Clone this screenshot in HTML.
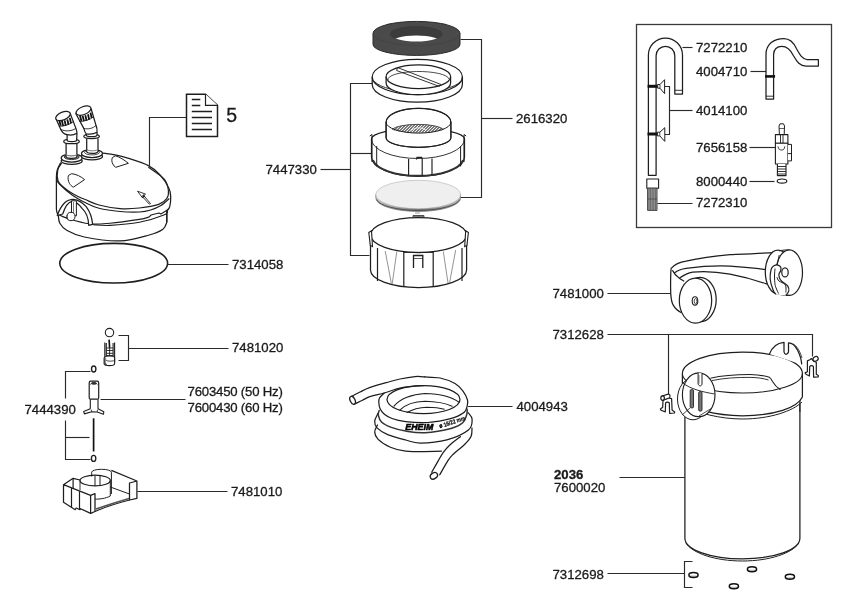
<!DOCTYPE html>
<html><head><meta charset="utf-8">
<style>
html,body{margin:0;padding:0;background:#fff;width:846px;height:613px;overflow:hidden}
svg{display:block;font-family:"Liberation Sans",sans-serif;filter:grayscale(100%)}
</style></head><body>
<svg width="846" height="613" viewBox="0 0 846 613">
<g id="labels" font-size="13.2" fill="#1a1a1a" stroke="#1a1a1a" stroke-width="0.3">
<text x="232" y="269">7314058</text>
<text x="265.5" y="173.8">7447330</text>
<text x="516" y="123.2">2616320</text>
<text x="696" y="51.7">7272210</text>
<text x="696" y="75.9">4004710</text>
<text x="696" y="114.7">4014100</text>
<text x="696" y="151.9">7656158</text>
<text x="696" y="185.6">8000440</text>
<text x="696" y="206.7">7272310</text>
<text x="232" y="352.2">7481020</text>
<text x="24.5" y="414.4">7444390</text>
<text x="187.6" y="395.5" textLength="95.2" lengthAdjust="spacing">7603450 (50 Hz)</text>
<text x="187.6" y="411.8" textLength="95.2" lengthAdjust="spacing">7600430 (60 Hz)</text>
<text x="231" y="495.8">7481010</text>
<text x="516.5" y="410.8">4004943</text>
<text x="552.5" y="298.4">7481000</text>
<text x="552.5" y="338.9">7312628</text>
<text x="554" y="478.8" font-weight="bold">2036</text>
<text x="554" y="491.8">7600020</text>
<text x="552.5" y="578.8">7312698</text>
<text x="226.2" y="122.2" font-size="19.5">5</text>
</g>
<g id="leaders" stroke="#2a2a2a" stroke-width="1.15" fill="none">
<!-- head -->
<polyline points="186.5,117.5 149.5,117.5 149.5,166"/>
<line x1="167.5" y1="264.5" x2="228.5" y2="264.5"/>
<!-- middle stack -->
<polyline points="372.5,83.5 350.5,83.5 350.5,255.5 369.5,255.5"/>
<line x1="350.5" y1="153.5" x2="372.5" y2="153.5"/>
<line x1="320.5" y1="169.5" x2="350.5" y2="169.5"/>
<polyline points="460.5,39.5 481.5,39.5 481.5,197.5 460.5,197.5"/>
<line x1="481.5" y1="118.5" x2="512.5" y2="118.5"/>
<!-- box -->
<rect x="636.5" y="24.5" width="195" height="203" stroke="#3a3a3a" stroke-width="1.3"/>
<line x1="682.5" y1="47.5" x2="692.5" y2="47.5"/>
<line x1="750.5" y1="71.5" x2="766.5" y2="71.5"/>
<polyline points="664.5,86.5 669.5,86.5 669.5,134.5 664.5,134.5"/>
<line x1="669.5" y1="110.5" x2="692.5" y2="110.5"/>
<line x1="749.5" y1="147.5" x2="775.5" y2="147.5"/>
<line x1="749.5" y1="181.5" x2="774.5" y2="181.5"/>
<line x1="657.5" y1="203.5" x2="692.5" y2="203.5"/>
<!-- bottom left -->
<polyline points="118.5,335.5 128.5,335.5 128.5,360.5 118.5,360.5"/>
<line x1="128.5" y1="348.5" x2="228.5" y2="348.5"/>
<polyline points="65.5,398.5 65.5,371.5 90.5,371.5"/>
<polyline points="65.5,420.5 65.5,459.5 90.5,459.5"/>
<line x1="65.5" y1="437.5" x2="89.5" y2="437.5"/>
<line x1="100.5" y1="399.5" x2="185.5" y2="399.5"/>
<line x1="137.5" y1="491.5" x2="227.5" y2="491.5"/>
<!-- hose -->
<line x1="467.5" y1="406.5" x2="512.5" y2="406.5"/>
<!-- right -->
<line x1="607.5" y1="293.5" x2="670.5" y2="293.5"/>
<polyline points="607.5,334.5 812.5,334.5 812.5,356.5"/>
<line x1="668.5" y1="334.5" x2="668.5" y2="394.5"/>
<line x1="619.5" y1="477.5" x2="685.5" y2="477.5"/>
<line x1="607.5" y1="573.5" x2="684.5" y2="573.5"/>
<polyline points="692.5,561.5 684.5,561.5 684.5,587.5 692.5,587.5"/>
</g>

<g id="middle" stroke="#1e1e1e" stroke-width="1.25" fill="none">
<defs>
<clipPath id="foamHoleTop"><ellipse cx="416.3" cy="34" rx="26" ry="7.5"/></clipPath>
<clipPath id="meshClip"><path d="M392.3,129.5 A26,6.3 0 0 1 443.4,129.5 A26,4 0 0 1 392.3,129.5 Z"/></clipPath><clipPath id="basketTop"><ellipse cx="418.3" cy="121.5" rx="32.3" ry="13.1"/></clipPath>
<pattern id="hatch" width="2" height="2" patternUnits="userSpaceOnUse" patternTransform="rotate(40)"><rect width="2" height="2" fill="#d0d0d0"/><rect width="0.9" height="2" fill="#4a4a4a"/></pattern>
<linearGradient id="footG" x1="0" y1="0" x2="0" y2="1"><stop offset="0.45" stop-color="#fff"/><stop offset="1" stop-color="#777"/></linearGradient>
<linearGradient id="padEdge" x1="0" y1="0" x2="1" y2="0">
<stop offset="0" stop-color="#c8c8c8"/><stop offset="0.5" stop-color="#777"/><stop offset="1" stop-color="#bbb"/></linearGradient>
</defs>
<!-- foam -->
<path d="M373,33.4 A43.5,12 0 0 1 460,33.4 L460,44.4 A43.5,11 0 0 1 373,44.4 Z" fill="#4a4a4a" stroke="#2a2a2a" stroke-width="1"/>
<ellipse cx="416.3" cy="34" rx="26" ry="7.5" fill="#3c3c3c" stroke="#383838" stroke-width="0.6"/>
<ellipse cx="416.3" cy="43" rx="26" ry="7.5" fill="#fff" stroke="none" clip-path="url(#foamHoleTop)"/>
<path d="M373,33.4 A43.5,12 0 0 0 460,33.4" stroke="#404040" stroke-width="0.6"/>
<!-- ring -->
<ellipse cx="417.3" cy="77" rx="45.1" ry="17.7"/>
<path d="M372.2,77 L372.2,84.5 A45.1,17.7 0 0 0 462.4,84.5 L462.4,77"/>
<path d="M374.5,81.5 A45,15 0 0 0 460.5,81.5" stroke-width="0.9"/>
<path d="M386.1,76.7 A32.25,11.8 0 0 1 450.6,76.7 L450.6,82.9 A32.25,11.8 0 0 1 386.1,82.9 Z" fill="#fff"/>
<path d="M386.1,76.7 A32.25,11.8 0 0 0 450.6,76.7"/>
<path d="M388,80 A30.5,8 0 0 1 449,79" stroke-width="0.8"/>
<path d="M397.5,67.5 L441,84.5 M396.6,70.5 L439.5,86.5 M396.6,70.5 L397.5,67.5" stroke-width="0.9"/>
<!-- basket -->
<path d="M371.5,139 A46.5,10.5 0 0 1 464.5,139 L464.5,157 A46.5,19.4 0 0 1 371.5,157 Z" fill="#fff"/>
<path d="M371.5,139 A46.5,19.5 0 0 0 464.5,139" stroke-width="0.9"/>
<path d="M373,160 A45.5,18.5 0 0 0 463,160" stroke="#333" stroke-width="1.8"/>
<path d="M369.8,136 L372,134.5 L372,162 M466.2,136 L464,134.5 L464,162 M376.7,146 L376.7,166.5 M460.6,146 L460.6,166.5" stroke-width="1"/>
<path d="M408.6,159 L408.6,175.5 M422.2,158.8 L422.2,176 M432,158.6 L432,175.3 M416.4,159.5 L417,157.3 L421.6,157.3 L422.2,158.8" stroke-width="1.15"/>
<path d="M386.1,122.2 A32.4,13.9 0 0 1 450.9,122.2 L450.9,137.8 A32.4,9.5 0 0 1 386.1,137.8 Z" fill="#fff"/>
<path d="M386.1,122.2 L386.1,137.8 A32.4,9.5 0 0 0 450.9,137.8 L450.9,122.2" stroke-width="1"/>
<path d="M392.3,129.5 A26,6.3 0 0 1 443.4,129.5 A26,4 0 0 1 392.3,129.5 Z" fill="#7a7a7a" stroke="none"/><g clip-path="url(#meshClip)"><path d="M384,136 L398,122 M387,136 L401,122 M390,136 L404,122 M393,136 L407,122 M396,136 L410,122 M399,136 L413,122 M402,136 L416,122 M405,136 L419,122 M408,136 L422,122 M411,136 L425,122 M414,136 L428,122 M417,136 L431,122 M420,136 L434,122 M423,136 L437,122 M426,136 L440,122 M429,136 L443,122 M432,136 L446,122 M435,136 L449,122 M438,136 L452,122 M441,136 L455,122 M444,136 L458,122" stroke="#f2f2f2" stroke-width="1"/></g>
<path d="M392.3,129.5 A26,6.3 0 0 1 443.4,129.5" stroke="#333" stroke-width="0.8"/>
<path d="M410,131 Q418,125 426,130" stroke="#eee" stroke-width="0.9"/>
<path d="M386.1,122.2 A32.4,13.9 0 0 1 450.9,122.2" stroke-width="1"/>
<path d="M386.1,122.2 A32.4,10.9 0 0 0 450.9,122.2" stroke-width="1"/>
<!-- pad -->
<path d="M375.8,194.5 L375.8,198 A42.4,13.5 0 0 0 460.6,198 L460.6,194.5 Z" fill="url(#padEdge)" stroke="#777" stroke-width="0.7"/>
<ellipse cx="418.2" cy="194.5" rx="42.4" ry="14.2" fill="#efefef" stroke="#b0b0b0" stroke-width="0.6"/>
<path d="M376.5,199.5 A42,12.5 0 0 0 459.8,199.5" stroke="#444" stroke-width="0.9"/>
<!-- bottom basket -->
<path d="M413,217.6 L413,215.5 L424,215.5 L424,217.6" fill="#777" stroke="#444" stroke-width="0.9"/>
<path d="M415,213 L420,213" stroke="#888" stroke-width="0.8"/>
<ellipse cx="418.6" cy="235" rx="48" ry="17.5" fill="#fff"/>
<path d="M370.5,235 L370.5,270 A48,17.5 0 0 0 466.6,270 L466.6,235"/>
<path d="M368.8,232.5 L371.5,230.8 L372.5,246.5 L370.3,245.5 Z M468.4,232.5 L465.7,230.8 L464.7,246.5 L466.9,245.5 Z" stroke-width="1.1" fill="#fff"/>
<path d="M377.5,248 L377.5,281 M403.8,251.8 L403.8,287 M433.2,251.8 L433.2,287 M462,248 L462,281" stroke-width="1.2"/>
<path d="M385.2,251 L391.4,283.7 M396.8,251.5 L392.2,284 M443.3,251.5 L448,283 M455.7,250 L449.5,283" stroke="#666" stroke-width="0.7"/>
<path d="M403.8,252.5 A48,4 0 0 1 433.2,252.5" stroke-width="0.9"/>
<path d="M413.5,268 L413.5,255.5 L422.8,255.5 L422.8,268" stroke-width="1.3"/>
<path d="M413.5,258.5 L422.8,258.5" stroke-width="0.7"/>
</g>

<g id="head" stroke="#1e1e1e" stroke-width="1.25" fill="none" stroke-linejoin="round">
<!-- gasket -->
<ellipse cx="113.7" cy="263.2" rx="53.9" ry="19.8" stroke-width="1.6"/>
<!-- lid silhouette fill -->
<path d="M56.4,177 C56.5,170 58,166 61,162.5 L82,160 L103,153.1 C120,154.5 140,160 150,166 C160,172 168,182 170,195 L169.7,206.7 L166.8,211 L166.8,222.3 C163,229 150,235 120,240.9 C90,238 66,231 59.8,223.3 L58.3,215 L56.4,209 Z" fill="#fff" stroke="none"/>
<path d="M58.3,215.0 C58.5,216.4 58.4,220.8 59.8,223.3 C61.2,225.8 62.6,227.9 66.7,230.2 C70.8,232.5 75.4,235.2 84.3,237.0 C93.2,238.8 109.2,241.2 120.0,240.9 C130.8,240.6 142.0,236.9 149.2,235.0 C156.3,233.1 160.0,231.3 162.9,229.2 C165.8,227.1 166.2,223.5 166.8,222.3 L166.8,211"/>
<path d="M60.8,162.5 C60.2,163.8 57.9,167.6 57.2,170.1 C56.5,172.6 56.5,176.1 56.4,177.3 L56.4,209.1  C56.5,209.7 56.7,211.5 57.0,212.5 C57.3,213.5 58.1,214.6 58.3,215.0"/>
<path d="M103.0,153.1 C105.0,153.4 110.9,154.1 115.0,154.9 C119.1,155.7 122.2,156.3 127.8,158.1 C133.4,159.9 143.1,162.8 148.4,165.6 C153.7,168.4 156.4,170.9 159.8,174.7 C163.2,178.5 167.2,184.6 169.0,188.4 C170.8,192.2 170.6,194.4 170.7,197.5 C170.8,200.6 170.3,204.4 169.7,206.7 C169.0,209.0 167.3,210.4 166.8,211.1 L166.8,222.3"/>
<path d="M61.7,163.0 C61.1,164.2 58.4,167.0 57.8,170.0 C57.2,173.0 57.1,178.0 58.1,180.9 C59.1,183.8 61.0,185.0 63.5,187.2 C66.0,189.4 69.6,191.8 73.3,193.9 C77.0,196.0 81.6,198.0 85.9,199.8 C90.2,201.7 93.3,203.5 99.0,205.0 C104.7,206.5 113.3,208.1 120.0,208.6 C126.7,209.1 132.9,208.7 139.3,208.0 C145.8,207.3 154.1,206.0 158.7,204.4 C163.3,202.8 165.1,201.0 166.7,198.7 C168.3,196.4 168.8,193.9 168.4,190.7 C168.0,187.5 167.7,183.2 164.4,179.3 C161.1,175.4 151.1,169.3 148.4,167.3" stroke-width="1.15"/>
<path d="M56.8,180.0 C57.3,180.8 57.3,181.9 59.9,184.5 C62.5,187.1 68.2,192.3 72.4,195.3 C76.6,198.3 80.6,200.3 85.0,202.5 C89.4,204.7 93.2,206.8 99.0,208.3 C104.8,209.8 113.3,210.9 120.0,211.5 C126.7,212.1 134.3,212.2 139.4,212.0 C144.5,211.8 147.1,211.1 150.7,210.0 C154.3,208.9 157.8,207.4 160.9,205.5 C164.0,203.6 167.9,199.7 169.3,198.5" stroke-width="1.15"/>
<path d="M58.3,214.5 C59.8,215.2 62.4,216.8 67.6,218.4 C72.8,220.0 82.1,223.0 89.2,223.8 C96.3,224.6 101.6,223.9 110.0,223.2 C118.4,222.5 132.9,220.4 139.4,219.4 C145.9,218.4 147.6,217.3 149.2,216.9 L151.1,215 L159,213 L160.9,214  C161.6,213.6 163.7,212.4 165.0,211.5 C166.3,210.6 168.2,209.1 168.8,208.6" stroke-width="1.15"/>
<path d="M93.1,224.8 C95.9,224.9 102.3,225.8 110.0,225.4 C117.7,225.0 130.4,224.0 139.4,222.3 C148.4,220.6 159.2,216.9 163.9,215.0 C168.6,213.1 167.2,211.8 167.8,211.1" stroke-width="1.1"/>
<!-- valve door -->
<path d="M57.3,215.5 C59,210 61.5,206 64.7,202.7 C67,200.5 70,199.3 73.5,199.3 C79,200 83,203 86.2,206.6 C89.5,211 92,217 92.6,224.3 L88.7,225.3 C88.5,218 86,212 82.3,208.6 C79,204 76,201.5 72,201.3 C68,202 65,207 62.7,214 Z" fill="#fff"/>
<rect x="71.5" y="200.8" width="4.9" height="15" fill="#fff" stroke-width="1"/>
<line x1="73.5" y1="202" x2="73.5" y2="214" stroke-width="0.6"/>
<ellipse cx="71" cy="216.5" rx="4" ry="4.2" fill="#fff" stroke-width="1"/>
<path d="M67.5,214.5 C66.5,216 66.5,217.5 67.5,219.5" stroke-width="0.7"/>
<!-- windows -->
<path d="M112.4,157.6 C111.5,159.5 111.7,162 112.8,164 C113.5,165.5 114.5,166.5 115.8,167.3 L128.4,163.3 C124,159.8 120,157 115.3,155.8 Z" stroke-width="1"/>
<path d="M68.4,175.5 C67.8,178 68,181 69.5,183.5 C70.5,185 71.5,186.3 73.3,187.2 L84.6,179.6 C81,176.5 76,174 71.5,173.7 Z" stroke-width="1"/>
<!-- arrow -->
<path d="M137.5,191.2 L145.5,194.1 L143.8,195.5 L150.5,203.6 L149.3,204.2 L142.4,196.6 L142.7,198.1 Z" fill="#fff" stroke-width="0.9"/>
<path d="M143.5,194.3 L145.2,196.5 L143.7,197.8 L142.2,195.8 Z" fill="#222" stroke="none"/>
<!-- nozzles -->
<g id="nozL">
<ellipse cx="71.7" cy="161" rx="10.5" ry="3.3" fill="#fff"/>
<ellipse cx="71.7" cy="158" rx="10.5" ry="4" fill="#fff"/>
<ellipse cx="71.7" cy="157" rx="7.5" ry="2.6" fill="#8a8a8a" stroke-width="0.8"/>
<path d="M66.1,143.6 L66.1,156.5 A5.4,1.8 0 0 0 76.9,156.5 L76.9,143.6" fill="#fff"/>
<path d="M66.1,154 A5.4,1.8 0 0 0 76.9,154" stroke="#777" stroke-width="1.2"/>
<ellipse cx="71.5" cy="141.4" rx="7.8" ry="2.3" fill="#fff"/>
<path d="M67.1,134.7 L67.1,140 A4.8,1.6 0 0 0 76.7,140 L76.9,133.3" fill="#fff"/>
<path d="M55.9,118.6 L60.8,129.4 C62,132 64,134 67.1,134.7 C71,135.5 74,135 76.9,133.3 C77,131 76.5,130 75.9,128.4 L70.1,113.2 Z" fill="#fff"/>
<path d="M60.8,129.4 C65,131.5 71,131.5 75.9,128.4" stroke-width="0.9"/>
<ellipse cx="63" cy="116" rx="7.7" ry="3.9" transform="rotate(-22 63 116)" fill="#fff"/>
<path d="M58.9,126.2 C63,126.5 69,125 73.4,121.6" stroke-width="0.9"/>
<path d="M59.3,120.3 L60.7,125.8 M61.9,120.8 L63.2,126.1 M64.6,120.4 L65.8,125.8 M67.3,119.4 L68.5,124.8 M69.8,117.9 L71,123.4" stroke="#111" stroke-width="1.8"/>
</g>
<g id="nozR">
<ellipse cx="92" cy="156.5" rx="10.5" ry="3.3" fill="#fff"/>
<ellipse cx="92" cy="153.5" rx="10.5" ry="4" fill="#fff"/>
<ellipse cx="92" cy="152.3" rx="7.5" ry="2.6" fill="#fff" stroke-width="0.8"/>
<path d="M86.7,138.4 L86.7,151.5 A5.6,1.8 0 0 0 98,151.5 L98,138.4" fill="#fff"/>
<path d="M86.7,149 A5.6,1.8 0 0 0 98,149" stroke="#777" stroke-width="1"/>
<ellipse cx="91.6" cy="136.3" rx="7.8" ry="2.3" fill="#fff"/>
<path d="M86.2,133.8 L86.2,135 A5,1.6 0 0 0 97,135 L97,132.3" fill="#fff"/>
<path d="M75.9,113.7 L83.8,128.4 C84.5,131 85,133 86.2,133.8 C90,134.5 94,134 97,132.3 C97.2,129 96.8,127 96,125.4 L91.1,108.8 Z" fill="#fff"/>
<path d="M83.8,128.4 C88,129.5 93,128.5 96,125.4" stroke-width="0.9"/>
<ellipse cx="83.5" cy="110.6" rx="7.9" ry="3.9" transform="rotate(-22 83.5 110.6)" fill="#fff"/>
<path d="M79.5,121.5 C84,121.5 89.5,120 94,116.5" stroke-width="0.9"/>
<path d="M79.9,115.3 L81.4,120.9 M82.6,115.7 L84,121.1 M85.3,115.3 L86.6,120.7 M88,114.2 L89.2,119.7 M90.5,112.6 L91.7,118.1" stroke="#111" stroke-width="1.8"/>
</g>
</g>
<g id="doc" stroke="#1e1e1e" fill="#fff">
<path d="M186.5,94.2 L205.5,94.2 L217.5,105.3 L217.5,136.5 L186.5,136.5 Z" stroke-width="1.5"/>
<path d="M205.5,94 L205.5,105.3 L217.6,105.3" stroke-width="1.2"/>
<path d="M191.8,99.5 L200.3,99.5 M191.8,105.5 L200.3,105.5 M191.8,111.5 L212,111.5 M191.8,117.5 L212,117.5 M191.8,123.5 L212,123.5 M191.8,129.5 L212,129.5" stroke-width="1.35"/>
</g>

<g id="botleft" stroke="#1e1e1e" stroke-width="1.25" fill="none" stroke-linejoin="round">
<circle cx="109.5" cy="332.6" r="4.2" stroke-width="1.1"/>
<!-- bearing holder -->
<path d="M104.8,342.4 L104.8,362 M106.3,343 L106.3,358 M114.6,342.4 L114.6,362 M113.1,343 L113.1,358" stroke-width="1.1"/>
<path d="M109.1,339.6 L109.6,347.8" stroke="#111" stroke-width="1.6"/>
<path d="M106.3,348 L113.1,348 M106.3,350.5 L113.1,350.5 M106.3,353.3 L113.1,353.3 M106.3,355.5 L113.1,355.5 M109.6,347 L109.6,356" stroke-width="0.9"/>
<path d="M104.4,358 A5.1,2 0 0 1 114.6,358 L114.6,363.8 A5.1,1.8 0 0 1 104.4,363.8 Z" fill="#fff" stroke-width="1.1"/>
<path d="M104.6,357.5 L104.6,364 L106.5,365" stroke="#444" stroke-width="2"/>
<path d="M106,359.8 A4,1.3 0 0 0 114.5,359.8" stroke-width="0.8"/>
<!-- small rings -->
<ellipse cx="93.7" cy="369" rx="2.2" ry="3" stroke-width="1.35"/>
<ellipse cx="93.6" cy="458.4" rx="2.2" ry="3" stroke-width="1.35"/>
<!-- rotor -->
<rect x="89.2" y="381.2" width="9.5" height="18" rx="1.5" fill="#fff" stroke-width="1.2"/>
<path d="M90.5,384.5 A3.4,1.6 0 0 1 97.3,384.5" stroke-width="1"/>
<ellipse cx="93.9" cy="383.4" rx="2.6" ry="1.3" fill="#333" stroke="none"/>
<path d="M90.3,399.2 L90.3,409.1 M98,399.2 L98,409.1" stroke-width="1.1"/>
<path d="M90.3,408.8 L83.7,411.5 L84.4,413.9 L91.7,411.8 L97.2,412 L103.5,414.3 L103.8,411.7 L98,408.8" fill="#fff" stroke-width="1.1"/>
<path d="M91.7,411.8 L91.2,409.5 M97.2,412 L97.5,409.5" stroke-width="0.8"/>
<line x1="93.6" y1="418.3" x2="93.6" y2="451.5" stroke="#111" stroke-width="1.7"/>
<!-- holder 7481010 -->
<path d="M63.5,484.7 L73.1,478.3 L80,480 L80,486 C83,488 100,488 110.3,484 L110.3,470.3 L111.4,470.3 L136.9,481 L136.9,498.4 L129.5,500 C120,503 105,506 95,509 L90.6,513.4 L80,509.7 L75.2,509.7 L63.5,502.2 Z" fill="#fff" stroke="none"/>
<path d="M63.5,484.7 L63.5,502.2 L75.2,509.7 L76.2,508 L80,509.7 L80,508.5 L90.6,513.4 L90.6,495.3 L63.5,484.7 L73.1,478.3 L80,480"/>
<path d="M71.5,488 L71.5,506.9 M79.5,491.3 L79.5,509.7 M73.1,478.3 L73.1,489" stroke-width="1.2"/>
<path d="M90.6,495.3 L95,493.7 L95,511.5 L90.6,513.4"/>
<path d="M80,480.5 A15.15,5.35 0 0 1 110.3,480.5 A15.15,5.35 0 0 1 80,480.5 Z" fill="#fff"/>
<path d="M91.7,472.2 A9.85,2.9 0 0 1 111.4,472.2" stroke-width="1"/>
<path d="M91.7,472.2 L91.7,476.5 M111.4,472.2 L111.4,494" stroke-width="1"/>
<path d="M95,475.5 L95,486 M100,475.2 L100,486" stroke-width="1"/>
<path d="M110.3,480.5 L110.3,496 C106,498.5 98,499.5 95,499" stroke-width="1"/>
<path d="M80,480.5 L80,490" stroke-width="0.9"/>
<path d="M111.4,470.3 L136.9,481 L136.9,498.4 L129.5,500 L129.5,483 L136.9,481" />
<path d="M110.3,487 L129.5,494" stroke-width="1"/>
<path d="M95,511.5 C105,507 118,503 129.5,500" stroke-width="1.1"/>
<path d="M96,509 C106,505.5 117,502 129,498.5" stroke="#555" stroke-width="1.6"/>
</g>

<g id="box" stroke="#1e1e1e" stroke-width="1.25" fill="none" stroke-linejoin="round">
<!-- U tube -->
<path d="M648.4,175.3 L648.4,55 A17.05,17 0 0 1 682.5,55 L682.5,94.1 L674.8,94.1 L674.8,55.7 A9.35,9.4 0 0 0 656.1,55.7 L656.1,175.3 Z" fill="#fff"/>
<path d="M674.8,90.3 L682.5,90.3" stroke-width="0.9"/>
<!-- suction cups -->
<path d="M647.6,86.3 L657.7,86.3" stroke="#111" stroke-width="3"/>
<path d="M657.7,84.5 L660,84.5 L664.6,79.7 L664.6,93.6 L660,88.2 L657.7,88.2 Z" fill="#fff" stroke-width="1"/>
<path d="M660,84.5 L660,88.2" stroke-width="0.8"/>
<path d="M647.5,134 L657.4,134" stroke="#111" stroke-width="3"/>
<path d="M657.4,132.2 L659.8,132.2 L664.8,127.7 L664.8,141.4 L659.8,135.9 L657.4,135.9 Z" fill="#fff" stroke-width="1"/>
<path d="M659.8,132.2 L659.8,135.9" stroke-width="0.8"/>
<!-- brush -->
<rect x="646.8" y="179" width="11.8" height="9.2" fill="#fff" stroke-width="1.1"/>
<rect x="647.6" y="188.2" width="9.4" height="22.2" fill="#a8a8a8" stroke="#333" stroke-width="0.9"/>
<path d="M649,189 L649,210 M650.6,189 L650.6,210 M652.2,189 L652.2,210 M653.8,189 L653.8,210 M655.4,189 L655.4,210 M647.6,199 L657,199" stroke="#3a3a3a" stroke-width="0.6"/>
<!-- tube 4004710 -->
<path d="M766,99.1 L766,54.4 C766,44 774,38.5 783.9,38.5 C791,38.5 794,43 796.4,48.5 C800,55 802,58.5 806.7,59.5 L818.4,59.5 L818.4,66.1 L806,66.1 C800,66 797,62 793.5,55.8 C791,50.5 788,46.3 781.7,46.3 C777,46.3 773.6,49.5 773.6,54.4 L773.6,99.1 Z" fill="#fff"/>
<path d="M766,96.2 L773.6,96.2" stroke-width="0.9"/>
<path d="M765.1,76.4 L775.1,76.4" stroke="#111" stroke-width="2.6"/>
<!-- valve -->
<path d="M779.4,134.6 L779,126 L780,123.8 L783.5,123.8 L784.5,126 L784.2,134.6 Z" fill="#fff" stroke-width="1"/>
<path d="M779.2,128.5 L784.3,128.5" stroke-width="0.7"/>
<rect x="775.4" y="134.6" width="12.5" height="8.6" fill="#fff" stroke-width="1.1"/>
<path d="M780.5,134.6 L780.5,143.2 M783,134.6 L783,143.2" stroke-width="0.9"/>
<rect x="775.4" y="143.2" width="12.5" height="20.8" fill="#fff" stroke-width="1.1"/>
<path d="M787.9,144.4 L791.5,144.4 L791.5,160.9 L787.9,160.9 M787.9,153.6 L791.5,153.6" fill="#fff" stroke-width="1"/>
<path d="M778,146.5 C778.5,149.5 780,150 781.4,150 C783,150 784.5,149.5 784.8,146.5" stroke-width="0.9"/>
<path d="M777.4,164 L777.4,175.6 L786,175.6 L786,164" fill="#fff" stroke-width="1.1"/>
<path d="M777.4,166.5 L786,166.5 M777.4,169 L786,169 M777.4,171.5 L786,171.5 M777.4,174 L786,174" stroke-width="0.9"/>
<!-- o-ring -->
<ellipse cx="782" cy="181.1" rx="4.8" ry="2.1" stroke-width="1.2"/>
</g>

<g id="hose" stroke="#1e1e1e" stroke-width="1.25" fill="none" stroke-linejoin="round" stroke-linecap="round">
<path d="M351.9,396.2 C353.2,395.5 357.1,393.4 360.0,392.0 C362.9,390.6 365.1,389.2 369.5,387.6 C373.9,386.1 381.0,384.1 386.1,382.7 C391.2,381.3 395.2,380.0 400.0,379.0 C404.8,378.0 410.9,377.0 415.0,376.6 C419.1,376.2 423.1,376.8 424.7,376.9 L440,378 L463,391 L472.5,420 L472,428 L471.1,436.3 L446.9,462.3 L439.7,474.8 L431.7,472.2 L441.5,451.1 L405.7,451.2 L377.9,439.1 L374.7,421.1 L378.8,402.3 L370.5,396.4 L354.3,404.3 Z" fill="#fff" stroke="none"/>
<path d="M460.4,436.7 C458.6,438.1 452.5,442.6 449.6,445.2 C446.8,447.8 445.2,449.7 443.3,452.4 C441.4,455.1 439.8,458.1 437.9,461.4 C436.0,464.7 432.7,470.4 431.7,472.2"/>
<path d="M472.0,428.0 C471.9,429.4 472.3,433.6 471.1,436.3 C469.9,439.0 467.9,441.2 464.8,444.3 C461.7,447.4 455.3,452.1 452.3,455.1 C449.3,458.1 449.0,459.0 446.9,462.3 C444.8,465.6 440.9,472.7 439.7,474.8"/>
<ellipse cx="433.9" cy="475.8" rx="3.9" ry="2.9" transform="rotate(-35 433.9 475.8)" fill="#fff" stroke-width="1.35"/>
<path d="M377.5,425.0 C377.0,426.1 374.6,429.5 374.7,431.9 C374.8,434.2 375.3,436.6 377.9,439.1 C380.5,441.7 385.8,445.2 390.4,447.2 C395.0,449.2 400.8,450.5 405.7,451.2 C410.6,451.9 414.0,451.5 420.0,451.5 C426.0,451.5 437.9,451.2 441.5,451.1"/>
<path d="M377.9,413.5 C377.4,414.8 374.8,418.7 374.7,421.1 C374.6,423.5 374.8,425.6 377.0,427.9 C379.2,430.1 382.9,432.6 387.7,434.6 C392.5,436.6 400.3,438.6 405.7,440.0 C411.1,441.4 413.1,443.0 420.0,443.0 C426.9,443.0 438.8,442.1 446.9,439.9 C455.0,437.7 464.2,433.4 468.4,430.0 C472.6,426.6 472.2,422.1 472.1,419.2 C472.0,416.3 468.7,413.6 468.0,412.5"/>
<path d="M379.2,410.4 C379.1,411.1 377.9,413.0 378.3,414.9 C378.7,416.8 379.3,419.9 381.5,422.0 C383.7,424.1 387.3,425.9 391.3,427.4 C395.3,428.9 400.1,430.1 405.7,431.0 C411.3,431.9 417.3,433.2 425.0,432.7 C432.7,432.2 445.6,429.8 451.9,428.2 C458.2,426.6 460.2,425.1 462.7,422.8 C465.2,420.6 465.9,416.9 466.7,414.7 C467.4,412.4 467.1,410.2 467.2,409.3" stroke="#333" stroke-width="1.5"/>
<path d="M384.2,393.0 C383.4,393.8 380.4,396.4 379.5,398.0 C378.6,399.6 378.7,400.6 378.8,402.3 C378.9,404.1 379.1,406.6 380.0,408.5 C380.9,410.4 382.1,412.3 384.1,414.0 C386.1,415.7 388.4,417.2 392.0,418.5 C395.6,419.8 399.7,420.9 405.7,421.6 C411.7,422.3 421.4,422.8 428.0,422.5 C434.6,422.2 440.6,420.9 445.0,420.0 C449.4,419.1 451.4,418.7 454.6,417.4 C457.9,416.1 462.4,413.9 464.5,412.0 C466.6,410.1 466.7,407.8 467.2,405.8 C467.7,403.8 468.2,402.5 467.5,400.0 C466.8,397.5 465.1,393.8 463.0,391.0 C460.9,388.2 458.8,385.7 455.0,383.5 C451.2,381.3 445.1,379.1 440.0,378.0 C434.9,376.9 427.2,377.1 424.7,376.9"/>
<ellipse cx="423.5" cy="399.6" rx="36.5" ry="14" fill="#fff"/>
<path d="M394,406.2 C400,399 412,394 425,393.5 C440,394 452,397 459,402.3" stroke-width="1.1"/>
<path d="M399.8,410.2 C406,404 415,401.5 425,401.3 C437,401.5 446,403.5 452.1,406.2" stroke-width="1.1"/>
<path d="M407,412.5 C413,409 420,407.5 427,407.2 C434,407.3 440,408 444.3,409.2" stroke-width="1.1"/>
<path d="M351.9,396.2 C353.2,395.5 357.1,393.4 360.0,392.0 C362.9,390.6 365.1,389.2 369.5,387.6 C373.9,386.1 381.0,384.1 386.1,382.7 C391.2,381.3 395.2,380.0 400.0,379.0 C404.8,378.0 410.9,377.0 415.0,376.6 C419.1,376.2 423.1,376.8 424.7,376.9 L424.7,376.9" />
<path d="M354.3,404.3 C355.6,403.7 359.3,401.8 362.0,400.5 C364.7,399.2 366.8,397.6 370.5,396.4 C374.2,395.1 379.3,394.4 384.2,393.0 C389.1,391.6 394.7,389.2 399.8,388.1 C404.9,387.0 411.1,386.6 415.0,386.2 C418.9,385.8 422.1,385.7 423.5,385.6" />
<path d="M354.3,404.3 L351.9,396.2" stroke="none"/>
<path d="M351.9,396.2 C353.2,395.5 357.1,393.4 360.0,392.0 C362.9,390.6 365.1,389.2 369.5,387.6 C373.9,386.1 381.0,384.1 386.1,382.7 C391.2,381.3 395.2,380.0 400.0,379.0 C404.8,378.0 410.9,377.0 415.0,376.6 C419.1,376.2 423.1,376.8 424.7,376.9 L440,378 L423.5,385.6 L354.3,404.3 Z" fill="#fff" stroke="none" opacity="0"/>
<ellipse cx="352.6" cy="400.3" rx="2.4" ry="4.2" transform="rotate(-25 352.6 400.3)" fill="#fff" stroke-width="1.35"/>
<!-- EHEIM label -->
<g opacity="0.99">
<text x="405.3" y="430.2" font-size="9.4" font-weight="bold" font-style="italic" fill="#000" stroke="#000" stroke-width="0.6" textLength="28" lengthAdjust="spacingAndGlyphs">EHEIM</text>
<text x="440" y="428.5" font-size="6" font-weight="bold" fill="#111" stroke="#111" stroke-width="0.25" transform="rotate(-19 440 428.5)" textLength="27" lengthAdjust="spacingAndGlyphs">⌀ 16/22 mm</text>
</g>
</g>

<g id="right" stroke="#1e1e1e" stroke-width="1.25" fill="none" stroke-linejoin="round">
<!-- clip 7481000 -->
<path d="M671.1,268.3 C675,264 680,262 686.1,261.1 C700,258 720,255.5 730,254.6 C745,254 760,253.5 776,252.3 L767.2,284.2 C755,281 745,277 730,274.2 C715,272 700,272 692.6,272.2 C688,274 684,277 681.5,312.7 C676,310 673.5,307 673.1,304.9 C671,300 670.7,297 670.7,293.1 Z" fill="#fff" stroke="none"/>
<path d="M671.1,268.3 C675,264 680,262 686.1,261.1 C700,258 720,255.5 730,254.6 C745,254 760,253.5 776,252.3"/>
<path d="M671.1,268.3 C670.5,276 670.5,285 670.7,293.1 C671,298 671.5,302 673.1,304.9 C675,308.5 678,311 681.5,312.7"/>
<path d="M672.4,270.2 C674,273 675,275 677,276.1 C679,278.5 681.5,280 684.2,281.3"/>
<path d="M674.4,272.9 C678,270 682,268.8 686.1,268.3 C700,266.5 715,265.5 730,266.1 C745,267 755,268 765.3,269.5"/>
<path d="M679.6,278.1 C684,275 688,273 692.6,272.2 C705,271 718,272 730,274.2 C745,277 755,280 767.2,284.2"/>
<!-- right disc back -->
<ellipse cx="778" cy="272" rx="12.7" ry="21.8" fill="#fff"/>
<ellipse cx="789.3" cy="272.6" rx="13.2" ry="22.8" fill="#fff" stroke-width="1.2"/>
<path d="M779,250.9 C783,250 786,249.9 789.3,249.9 M775,293 C780,295 785,295.6 789.3,295.4" stroke-width="1"/>
<path d="M777.5,276 C778,289 780,293 781.5,294.5" stroke-width="0.9"/>
<path d="M779.2,255 L777,266" stroke-width="0.9"/>
<ellipse cx="785" cy="272.4" rx="3.2" ry="4.5" stroke-width="1.2"/>
<path d="M776.0,294.5 C775.5,293.8 774.1,292.5 773.1,290.0 C772.1,287.5 770.5,282.7 770.2,279.3 C769.9,275.9 770.5,271.8 771.1,269.5 C771.7,267.2 772.9,266.5 774.0,265.8 C775.1,265.1 776.9,264.8 778.0,265.1 C779.1,265.4 780.5,266.5 780.9,267.5 C781.3,268.5 780.8,269.9 780.5,271.0 C780.2,272.1 779.2,272.8 779.0,274.0 C778.8,275.2 779.0,276.8 779.5,278.0 C780.0,279.2 780.6,280.1 782.0,281.5 C783.4,282.9 786.7,284.5 787.8,286.1 C788.9,287.7 789.1,289.4 788.8,291.0 C788.5,292.6 786.3,294.7 785.8,295.4" fill="#fff" stroke-width="1.2"/><path d="M775.0,268.5 C774.9,269.8 774.5,273.4 774.5,276.0 C774.5,278.6 774.7,282.0 775.0,284.2 C775.3,286.4 775.9,287.4 776.5,289.0 C777.1,290.6 778.2,292.8 778.5,293.5" stroke-width="1"/><path d="M777.0,277.3 C777.3,277.9 777.7,279.9 779.0,281.0 C780.3,282.1 783.6,283.0 784.8,284.2 C786.0,285.4 785.8,286.6 786.0,288.0 C786.2,289.4 785.8,291.8 785.8,292.5" stroke-width="1"/>
<!-- left disc -->
<ellipse cx="700" cy="299.6" rx="16.2" ry="22.2" fill="#fff"/>
<ellipse cx="695.5" cy="300.6" rx="16.2" ry="22.5" fill="#fff" stroke-width="1.2"/>
<ellipse cx="695" cy="300.9" rx="2.8" ry="4.2" stroke-width="1.1"/>
<ellipse cx="695.6" cy="301.2" rx="1.4" ry="2.6" stroke-width="0.8"/>

<!-- canister body -->
<path d="M684.9,408 L684.9,538.2 A57.5,20.7 0 0 0 799.9,538.2 L799.9,398" fill="#fff"/>
<path d="M686,543 C692,553 715,561 742.4,561 C770,561 792,553 798.5,543.5" stroke-width="1"/>
<!-- rim -->
<path d="M682.4,373.5 A60,21.5 0 0 1 802.4,373.5 L802.4,397 C797,408 775,415.5 742.4,415.8 C715,415.5 690,409 684.4,400 L682.4,390 Z" fill="#fff"/>
<path d="M682.4,373.5 A60,19.5 0 0 0 802.4,373.5" stroke-width="1.05"/>
<path d="M710.5,378.2 C722,375.5 735,374.5 750,374.5 C758,374.6 764,375.5 769.4,377.3 C771,378.5 771.8,380 772.5,381.5 C774.5,385 777,387.5 780.5,389.8" stroke-width="1.05"/>
<path d="M711.8,380.6 C724,378 737,377.3 750,377.4 C757,377.5 763,378.2 768.5,380" stroke-width="0.9"/>
<path d="M686,406 C697,413 720,419 742.4,419 C770,419 793,411 802,402" stroke-width="1"/>
<path d="M685,405 L685,412 M799.9,404 L799.9,412" stroke-width="1"/>
<!-- back-right disc -->
<path d="M769.4,354.1 C772,347 777,343 784,342.3 L784,352 C784.5,355 787.5,355 788.5,352 L788.5,342.8 C792,343 795,345 797.5,350 C800,355 801.5,360 801.7,364.4" fill="#fff"/>
<path d="M792.9,343.8 C797,346 800,351 802,358" stroke-width="0.8"/>
<!-- hinge disc front-left -->
<ellipse cx="693" cy="399" rx="15.5" ry="20.8" fill="#fff" stroke-width="1"/>
<ellipse cx="698.7" cy="394.8" rx="16.3" ry="21.9" fill="#fff" stroke-width="1.15"/>
<path d="M683,383 C690,389 703,392 714.5,394" stroke-width="0.9"/>
<path d="M698.1,372.8 L698.1,384 C699,386.5 701.5,386.5 702,384 L702,373.5" fill="#fff" stroke-width="1"/>
<path d="M698.8,375 L698.8,383.5" stroke="#666" stroke-width="1.2"/>
<rect x="690.2" y="389.6" width="3.3" height="18.3" rx="1.2" fill="#777" stroke="#222" stroke-width="0.9"/>
<rect x="698.7" y="391.6" width="3.3" height="19.5" rx="1.2" fill="#777" stroke="#222" stroke-width="0.9"/>
<path d="M682,415 L690,408 M699,416 L712,408" stroke-width="0.8"/>
<!-- latches -->
<g stroke-width="1.2" fill="#fff">
<path d="M663,400.4 L662.7,407.3 L660.4,409 L661,410.3 L665.3,411.9 L665.6,402.8 C666.5,401.8 668.5,401.8 669.3,402.8 L669.6,413.3 L674.4,413 L674.7,411.9 L672.1,410.1 L671.6,398.7 L669,398 L663.5,400 Z"/>
<path d="M662,396 L668.2,394.2 C670,393.8 670.8,397.2 669,398 L663,400.2 Z"/>
<ellipse cx="662.6" cy="398.1" rx="1.8" ry="2.2"/>
<path d="M807.4,360.9 L807.4,371.7 L805.1,372.9 L806,374.3 L809.4,376 L809.7,366.5 C810.5,365.3 812.5,365.3 813.4,366.5 L813.6,377.2 L818.3,376.8 L818.3,375.5 L816.3,374.2 L816.3,362.3 L814,361.5 L811.4,358.6 L809.8,359.8 Z"/>
<ellipse cx="815.6" cy="358.9" rx="2.7" ry="2.2" transform="rotate(-30 815.6 358.9)"/>
</g>
<!-- feet -->
<g stroke="#111" stroke-width="1.5" fill="url(#footG)">
<ellipse cx="693.5" cy="575.1" rx="4.6" ry="2.5"/>
<ellipse cx="752" cy="569.3" rx="4.6" ry="2.5"/>
<ellipse cx="733.9" cy="586.3" rx="4.6" ry="2.5"/>
<ellipse cx="789.9" cy="576.8" rx="4.6" ry="2.5"/>
</g>
</g>
</svg>
</body></html>
